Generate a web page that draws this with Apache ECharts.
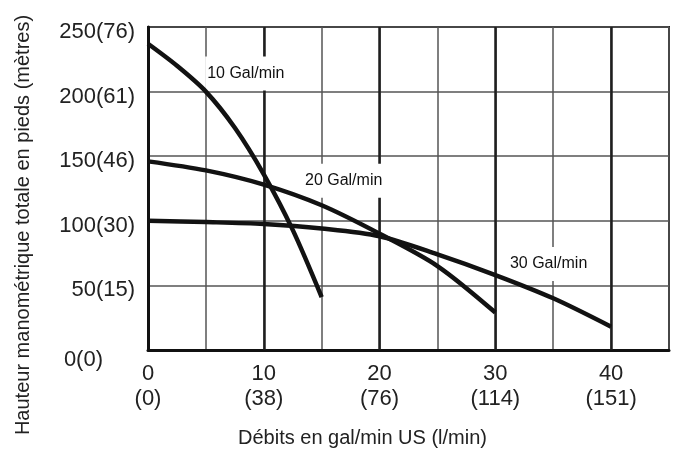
<!DOCTYPE html>
<html>
<head>
<meta charset="utf-8">
<style>
  html, body { margin: 0; padding: 0; background: #fff; }
  #chart { width: 674px; height: 454px; }
</style>
<script src="https://cdn.jsdelivr.net/npm/echarts@6/dist/echarts.min.js"></script>
</head>
<body>
<div id="chart"></div>
<script>
// ---- data ----
const xTicks = [0, 10, 20, 30, 40];
const xTickLabels = ['0\n(0)', '10\n(38)', '20\n(76)', '30\n(114)', '40\n(151)'];
const yTicks = [0, 50, 100, 150, 200, 250];
const yTickLabels = ['0(0)', '50(15)', '100(30)', '150(46)', '200(61)', '250(76)'];
const majorLines = [10, 20, 30, 40];

const curveNames = ['10 Gal/min', '20 Gal/min', '30 Gal/min'];
const gal10 = [[0, 237], [2.5, 220], [5, 200], [7.5, 172], [10, 136], [12.5, 93], [15, 41]];
const gal20 = [[0, 146], [5, 139], [10, 128], [15, 112], [20, 90], [25, 65], [30, 29]];
const gal30 = [[0, 100], [5, 99], [10, 97.5], [15, 94], [20, 88], [25, 74], [30, 58], [35, 40], [40, 18]];
const labelAnchors = [[8.45, 214], [16.9, 131], [34.6, 66.5]];

const xName = 'Débits en gal/min US (l/min)';
const yName = 'Hauteur manométrique totale en pieds (mètres)';

const FONT = "'Liberation Sans', Arial, Helvetica, sans-serif";
const chart = echarts.init(document.getElementById('chart'), null, { renderer: 'canvas' });

const curveSeries = [gal10, gal20, gal30].map((d, i) => ({
  name: curveNames[i],
  type: 'line',
  data: d,
  smooth: 0.3,
  symbol: 'none',
  z: 3,
  lineStyle: { color: '#121212', width: 4.5 },
  silent: true
}));

const option = {
  animation: false,
  backgroundColor: '#fff',
  grid: {
    left: 148, right: 5, top: 27, bottom: 104,
    show: true, borderColor: '#222', borderWidth: 2, backgroundColor: 'transparent'
  },
  xAxis: {
    type: 'value', min: 0, max: 45, interval: 5,
    name: xName, nameLocation: 'middle', nameGap: 78,
    nameTextStyle: { fontFamily: FONT, fontSize: 20, color: '#222', padding: [0, 92, 0, 0] },
    axisLine: { show: true, lineStyle: { color: '#111', width: 3 } },
    axisTick: { show: false },
    splitLine: { show: true, lineStyle: { color: '#555', width: 1.5 } },
    axisLabel: {
      margin: 11, fontFamily: FONT, fontSize: 22, color: '#222', lineHeight: 25,
      showMaxLabel: false,
      formatter: v => { const i = xTicks.indexOf(v); return i >= 0 ? xTickLabels[i] : ''; }
    }
  },
  yAxis: {
    type: 'value', min: 0, max: 250, interval: 50,
    name: yName, nameLocation: 'middle', nameGap: 115, nameRotate: 90,
    nameTextStyle: { fontFamily: FONT, fontSize: 20, color: '#222', padding: [0, 73, 0, 0] },
    axisLine: { show: true, lineStyle: { color: '#111', width: 3 } },
    axisTick: { show: false },
    splitLine: { show: true, lineStyle: { color: '#555', width: 1.5 } },
    axisLabel: {
      margin: 13, fontFamily: FONT, fontSize: 22, color: '#222',
      formatter: v => {
        const i = yTicks.indexOf(v);
        if (i < 0) return '';
        return i === 0 ? '{z|' + yTickLabels[i] + '}' : '{n|' + yTickLabels[i] + '}';
      },
      rich: {
        n: { fontFamily: FONT, fontSize: 22, color: '#222', padding: [10, 0, 0, 0] },
        z: { fontFamily: FONT, fontSize: 22, color: '#222', padding: [20, 32, 0, 0] }
      }
    }
  },
  series: [
    {
      type: 'line', data: [], symbol: 'none', silent: true, z: 1,
      markLine: {
        silent: true, symbol: 'none', z: 1, animation: false,
        label: { show: false },
        lineStyle: { color: '#1e1e1e', width: 2.5, type: 'solid' },
        data: majorLines.map(v => ({ xAxis: v }))
      }
    },
    ...curveSeries,
    {
      type: 'scatter', symbolSize: 0, silent: true, z: 2,
      itemStyle: { opacity: 1 },
      data: labelAnchors.map((p, i) => ({ value: p, name: curveNames[i] })),
      label: {
        show: true, position: 'inside', formatter: p => p.name,
        fontFamily: FONT, fontSize: 16, color: '#111',
        backgroundColor: '#fff', padding: [12, 2, 6, 2]
      }
    }
  ]
};
chart.setOption(option);
</script>
</body>
</html>
